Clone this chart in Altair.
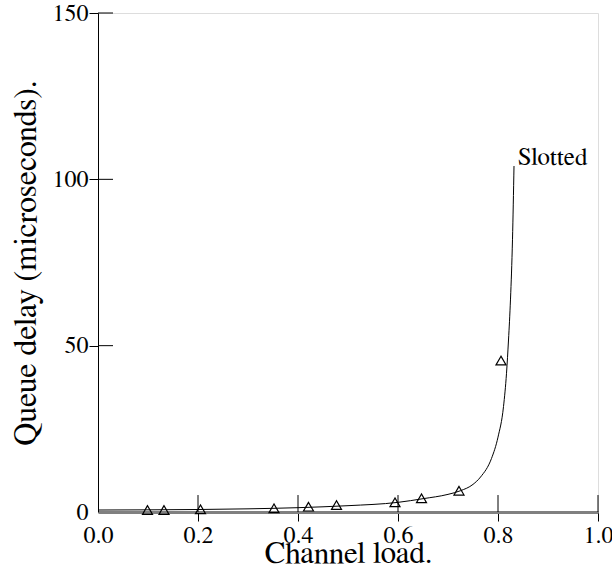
import altair as alt
import pandas as pd

# Curve (analytic model)
curve_x = [0.0, 0.1, 0.2, 0.3, 0.4, 0.5, 0.6, 0.65, 0.7, 0.725, 0.75, 0.765,
           0.787, 0.8, 0.811, 0.817, 0.821, 0.825, 0.829, 0.832]
curve_y = [0.6, 0.65, 0.75, 0.95, 1.3, 1.9, 2.9, 4.0, 5.3, 6.4, 8.3, 10.5,
           16.1, 22.5, 31.7, 41.7, 51.7, 64, 82, 104]

# Simulation points (triangles)
pts_x = [0.099, 0.132, 0.205, 0.352, 0.421, 0.477, 0.594, 0.647, 0.722, 0.806]
pts_y = [0.6, 0.6, 0.8, 1.1, 1.6, 2.1, 2.9, 4.1, 6.4, 45.5]

# Axis ticks
x_ticks = [0.0, 0.2, 0.4, 0.6, 0.8, 1.0]
y_ticks = [0, 50, 100, 150]
x_inner_ticks = [0.2, 0.4, 0.6, 0.8, 1.0]
y_inner_ticks = [50, 100, 150]
x_inner_len = 5.1   # in y-data units
y_inner_len = 0.03  # in x-data units

series_label = "Slotted"

FONT = "FreeSerif, Nimbus Roman, Tinos, DejaVu Serif"

curve_df = pd.DataFrame({"x": curve_x, "y": curve_y})
pts_df = pd.DataFrame({"x": pts_x, "y": pts_y})
xt_df = pd.DataFrame({"x": x_inner_ticks, "y0": [0.0] * len(x_inner_ticks),
                      "y1": [x_inner_len] * len(x_inner_ticks)})
yt_df = pd.DataFrame({"y": y_inner_ticks, "x0": [0.0] * len(y_inner_ticks),
                      "x1": [y_inner_len] * len(y_inner_ticks)})
lab_df = pd.DataFrame({"x": [curve_x[-1]], "y": [curve_y[-1]], "t": [series_label]})

xscale = alt.Scale(domain=[0, 1], nice=False, zero=False)
yscale = alt.Scale(domain=[0, 150], nice=False)

hide_zero_tick = {"condition": {"test": "datum.value === 0", "value": "transparent"},
                  "value": "black"}

xaxis = alt.Axis(
    values=x_ticks, format=".1f", grid=False,
    labelFont=FONT, labelFontSize=24, labelColor="black", labelPadding=2,
    labelFlush=False, labelOverlap=False,
    tickSize=9, tickColor=hide_zero_tick, tickWidth=1,
    domainColor="#808080", domainWidth=3,
    title="Channel load.", titleFont=FONT, titleFontSize=31,
    titleFontWeight="normal", titleColor="black",
    titleBaseline="alphabetic", titleY=50,
)
yaxis = alt.Axis(
    values=y_ticks, format="d", grid=False,
    labelFont=FONT, labelFontSize=24, labelColor="black", labelPadding=1,
    labelOverlap=False,
    tickSize=9, tickColor=hide_zero_tick, tickWidth=1,
    domainColor="black", domainWidth=1,
    title="Queue delay (microseconds).", titleFont=FONT, titleFontSize=32,
    titleFontWeight="normal", titleColor="black",
    titleBaseline="alphabetic", titleX=-63,
)

line = alt.Chart(curve_df).mark_line(color="black", strokeWidth=1,
                                     interpolate="monotone").encode(
    x=alt.X("x:Q", scale=xscale, axis=xaxis),
    y=alt.Y("y:Q", scale=yscale, axis=yaxis),
)

points = alt.Chart(pts_df).mark_point(shape="triangle-up", size=100, filled=False,
                                      color="black", strokeWidth=1.2, opacity=1).encode(
    x="x:Q", y="y:Q",
)

xticks_in = alt.Chart(xt_df).mark_rule(color="black", strokeWidth=1).encode(
    x="x:Q", y="y0:Q", y2="y1:Q",
)
yticks_in = alt.Chart(yt_df).mark_rule(color="black", strokeWidth=1).encode(
    y="y:Q", x="x0:Q", x2="x1:Q",
)

label = alt.Chart(lab_df).mark_text(font=FONT, fontSize=25, color="black",
                                    align="left", baseline="alphabetic",
                                    dx=4, dy=-1).encode(
    x="x:Q", y="y:Q", text="t:N",
)

chart = alt.layer(line, xticks_in, yticks_in, points, label).properties(
    width=500, height=499,
    autosize=alt.AutoSizeParams(type="none"),
    padding={"left": 98, "top": 13, "right": 14, "bottom": 64},
).configure_view(stroke=None).configure(background="white")

chart.save("out.html", embed_options={"renderer": "svg", "actions": False})
